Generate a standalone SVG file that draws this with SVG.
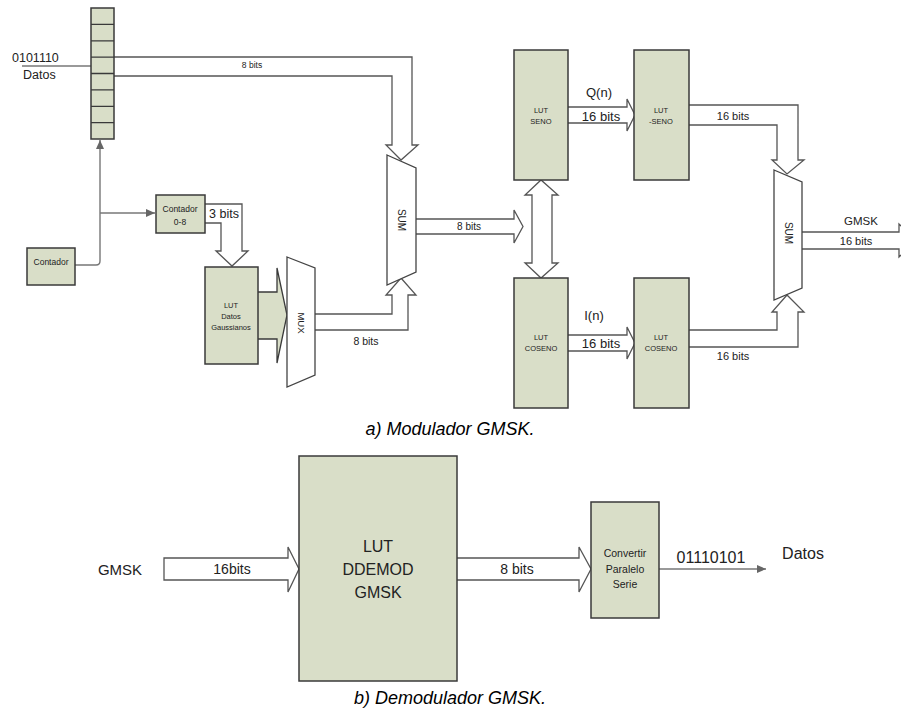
<svg xmlns="http://www.w3.org/2000/svg" width="901" height="715" viewBox="0 0 901 715">
<style>
.box{fill:#d9dec8;stroke:#3a3a3a;stroke-width:1.5}
.blk{fill:#ffffff;stroke:#555;stroke-width:1.3;stroke-linejoin:miter}
.ln{fill:none;stroke:#777;stroke-width:1.4}
.t{font-family:"Liberation Sans",Arial,sans-serif;fill:#222;text-anchor:middle}
.cap{font-family:"Liberation Sans",Arial,sans-serif;font-style:italic;fill:#000;text-anchor:middle;font-size:18px}
</style>
<defs>
<marker id="ah" markerWidth="10" markerHeight="8" refX="9" refY="4" orient="auto" markerUnits="userSpaceOnUse">
<path d="M0,0 L9,4 L0,8 Z" fill="#666"/>
</marker>
</defs>
<rect width="901" height="715" fill="#fff"/>

<g id="connectors">
<path class="blk" d="M114,57 H412 V145 H418 L401,160 L386,145 H392 V76 H114"/>
<path class="blk" d="M205,204 H242 V251 H248 L232,266 L216,251 H221 V223 H205"/>
<path class="blk" d="M315,330 H408 V295 H416 L401,278 L386,295 H392 V314 H315"/>
<path class="blk" d="M416,219 H514 V210 L523,226.5 L514,243 V234 H416"/>
<path class="blk" d="M532,195 H525 L541,180 L558,195 H552 V263 H558 L541,278 L525,263 H532 Z"/>
<path class="blk" d="M568,107 H627 V99 L635,115 L627,131 V123 H568"/>
<path class="blk" d="M568,335 H627 V327 L635,343 L627,359 V351 H568"/>
<path class="blk" d="M689,105 H798 V160 H804 L787,174 L772,160 H777 V125 H689"/>
<path class="blk" d="M689,347 H798 V312 H804 L787,295 L772,312 H777 V330 H689"/>
<path class="blk" d="M802,232 H899 V224 L916,240.5 L899,257 V249 H802"/>
<path d="M258,292 H277 V268 L287,315 L277,363 V339 H258" fill="#d9dec8" stroke="#3a3a3a" stroke-width="1.3"/>
<path class="ln" d="M75,265 H96 Q100,265 100,261 V140" marker-end="url(#ah)"/>
<path class="ln" d="M100,213 H155" marker-end="url(#ah)"/>
<path class="ln" d="M22,66 H91"/>
<path class="blk" d="M164,558 H288 V547 L299,569 L288,592 V580 H164 Z"/>
<path class="blk" d="M457,558 H579 V547 L591,569 L579,592 V580 H457"/>
<path class="ln" d="M659,569 H766" marker-end="url(#ah)"/>
</g>

<g id="shift-register">
<rect class="box" x="91" y="8" width="23" height="131"/>
<path d="M91,24.4 H114 M91,40.8 H114 M91,57.1 H114 M91,73.5 H114 M91,89.9 H114 M91,106.3 H114 M91,122.6 H114" stroke="#3a3a3a" stroke-width="1.3"/>
</g>
<g id="datos-in">
<text class="t" x="12" y="61.5" font-size="12.5" style="text-anchor:start">0101110</text>
<text class="t" x="23" y="79" font-size="12.5" style="text-anchor:start">Datos</text>
<text class="t" x="252" y="68" font-size="8.5">8 bits</text>
</g>
<g id="contador">
<rect class="box" x="27" y="248" width="48" height="37"/>
<text class="t" x="51" y="265" font-size="8.5">Contador</text>
</g>
<g id="contador08">
<rect class="box" x="156" y="195" width="49" height="38"/>
<text class="t" x="180" y="212" font-size="8.5">Contador</text>
<text class="t" x="180" y="225" font-size="8.5">0-8</text>
<text class="t" x="209" y="218" font-size="12.5" style="text-anchor:start">3 bits</text>
</g>
<g id="lut-gauss">
<rect class="box" x="205" y="267" width="53" height="97"/>
<text class="t" x="231" y="307.5" font-size="7.5">LUT</text>
<text class="t" x="231" y="318.5" font-size="7.5">Datos</text>
<text class="t" x="231" y="329.5" font-size="7.5">Gaussianos</text>
</g>
<g id="mux">
<path d="M287,257 L315,268 V375 L287,387 Z" fill="#fff" stroke="#444" stroke-width="1.3"/>
<text class="t" font-size="9.5" transform="translate(301,323) rotate(90)" y="3.3">MUX</text>
<text class="t" x="366" y="345" font-size="10.5">8 bits</text>
</g>
<g id="sum1">
<path d="M387,155 L416,168 V272 L387,285 Z" fill="#fff" stroke="#444" stroke-width="1.3"/>
<text class="t" font-size="10" transform="translate(401,220) rotate(90)" y="3.5">SUM</text>
<text class="t" x="469" y="230" font-size="10">8 bits</text>
</g>
<g id="lut-seno">
<rect class="box" x="514" y="50" width="54" height="130"/>
<text class="t" x="541" y="112.5" font-size="7.5">LUT</text>
<text class="t" x="541" y="123.5" font-size="7.5">SENO</text>
<text class="t" x="599" y="96.5" font-size="13">Q(n)</text>
<text class="t" x="601" y="120.5" font-size="13">16 bits</text>
</g>
<g id="lut-mseno">
<rect class="box" x="634" y="50" width="55" height="130"/>
<text class="t" x="661" y="112.5" font-size="7.5">LUT</text>
<text class="t" x="661" y="123.5" font-size="7.5">-SENO</text>
<text class="t" x="733" y="119.5" font-size="11">16 bits</text>
</g>
<g id="lut-coseno1">
<rect class="box" x="514" y="278" width="54" height="130"/>
<text class="t" x="541" y="339.5" font-size="7.5">LUT</text>
<text class="t" x="541" y="350.5" font-size="7.5">COSENO</text>
<text class="t" x="594" y="319.5" font-size="13">I(n)</text>
<text class="t" x="601" y="347.5" font-size="13">16 bits</text>
</g>
<g id="lut-coseno2">
<rect class="box" x="634" y="278" width="55" height="130"/>
<text class="t" x="661" y="339.5" font-size="7.5">LUT</text>
<text class="t" x="661" y="350.5" font-size="7.5">COSENO</text>
<text class="t" x="733" y="360" font-size="11">16 bits</text>
</g>
<g id="sum2">
<path d="M774,170 L802,182 V288 L774,300 Z" fill="#fff" stroke="#444" stroke-width="1.3"/>
<text class="t" font-size="10" transform="translate(788,233) rotate(90)" y="3.5">SUM</text>
<text class="t" x="861" y="225" font-size="11.5">GMSK</text>
<text class="t" x="856" y="245" font-size="11">16 bits</text>
</g>
<text class="cap" x="450" y="435">a) Modulador GMSK.</text>

<g id="demod-in">
<text class="t" x="120" y="574.5" font-size="15">GMSK</text>
<text class="t" x="232" y="574" font-size="14">16bits</text>
</g>
<g id="lut-ddemod">
<rect class="box" x="299" y="456" width="158" height="225"/>
<text class="t" x="378" y="551.5" font-size="16">LUT</text>
<text class="t" x="378" y="574.5" font-size="16">DDEMOD</text>
<text class="t" x="378" y="597.5" font-size="16">GMSK</text>
<text class="t" x="517" y="574" font-size="14">8 bits</text>
</g>
<g id="convertir">
<rect class="box" x="591" y="502" width="68" height="116"/>
<text class="t" x="625" y="556.5" font-size="10.5">Convertir</text>
<text class="t" x="625" y="572.5" font-size="10.5">Paralelo</text>
<text class="t" x="625" y="587.5" font-size="10.5">Serie</text>
</g>
<g id="datos-out">
<text class="t" x="711" y="563" font-size="16">01110101</text>
<text class="t" x="803" y="559" font-size="16">Datos</text>
</g>
<text class="cap" x="450" y="704">b) Demodulador GMSK.</text>
</svg>
